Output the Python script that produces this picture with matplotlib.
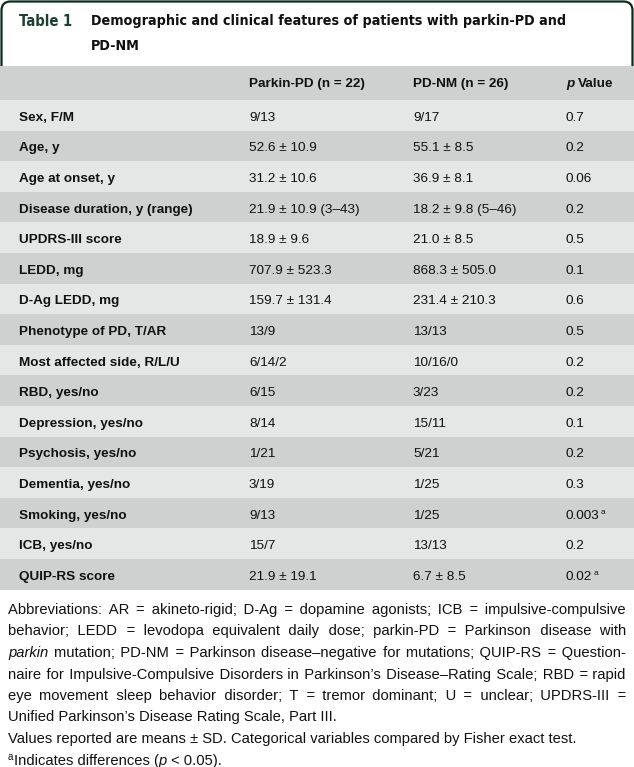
import matplotlib
matplotlib.use("Agg")
import matplotlib.pyplot as plt
from matplotlib import font_manager
from matplotlib.font_manager import FontProperties
from matplotlib.patches import Rectangle, FancyBboxPatch

# ---- table content ----
title_tag = "Table 1"
title_lines = ["Demographic and clinical features of patients with parkin-PD and", "PD-NM"]
col_headers = ["Parkin-PD (n = 22)", "PD-NM (n = 26)", "Value"]

row_labels = ["Sex, F/M", "Age, y", "Age at onset, y", "Disease duration, y (range)",
              "UPDRS-III score", "LEDD, mg", "D-Ag LEDD, mg", "Phenotype of PD, T/AR",
              "Most affected side, R/L/U", "RBD, yes/no", "Depression, yes/no",
              "Psychosis, yes/no", "Dementia, yes/no", "Smoking, yes/no", "ICB, yes/no",
              "QUIP-RS score"]
parkin_pd = ["9/13", "52.6 ± 10.9", "31.2 ± 10.6", "21.9 ± 10.9 (3–43)", "18.9 ± 9.6",
             "707.9 ± 523.3", "159.7 ± 131.4", "13/9", "6/14/2", "6/15", "8/14", "1/21",
             "3/19", "9/13", "15/7", "21.9 ± 19.1"]
pd_nm = ["9/17", "55.1 ± 8.5", "36.9 ± 8.1", "18.2 ± 9.8 (5–46)", "21.0 ± 8.5",
         "868.3 ± 505.0", "231.4 ± 210.3", "13/13", "10/16/0", "3/23", "15/11", "5/21",
         "1/25", "1/25", "13/13", "6.7 ± 8.5"]
p_values = ["0.7", "0.2", "0.06", "0.2", "0.5", "0.1", "0.6", "0.5", "0.2", "0.2", "0.1",
            "0.2", "0.3", "0.003", "0.2", "0.02"]
p_flag = [False] * 13 + [True, False, True]

# footnote lines (text, justified); a leading italic word is split off separately
foot = [
    ("Abbreviations: AR = akineto-rigid; D-Ag = dopamine agonists; ICB = impulsive-compulsive", True),
    ("behavior; LEDD = levodopa equivalent daily dose; parkin-PD = Parkinson disease with", True),
    ("*parkin mutation; PD-NM = Parkinson disease–negative for mutations; QUIP-RS = Question-", True),
    ("naire for Impulsive-Compulsive Disorders in Parkinson’s Disease–Rating Scale; RBD = rapid", True),
    ("eye movement sleep behavior disorder; T = tremor dominant; U = unclear; UPDRS-III =", True),
    ("Unified Parkinson’s Disease Rating Scale, Part III.", False),
    ("Values reported are means ± SD. Categorical variables compared by Fisher exact test.", False),
]

BODY = "Liberation Sans"
FOOT_FAM = [BODY, "DejaVu Sans"]

# a condensed bold face for the title, if one is installed
cond = FontProperties(family="DejaVu Sans", stretch="condensed", weight="bold")
if "Condensed" in font_manager.findfont(cond):
    TITLE_KW = dict(family="DejaVu Sans", fontstretch="condensed", fontsize=10.3)
    TAG_SIZE = 10.6
else:
    TITLE_KW = dict(family=BODY, fontsize=9.8)
    TAG_SIZE = 10.4

W, H = 634, 767
fig = plt.figure(figsize=(W / 100, H / 100), dpi=100)
ax = fig.add_axes([0, 0, 1, 1])
ax.set_xlim(0, W)
ax.set_ylim(H, 0)
ax.axis("off")
rend = fig.canvas.get_renderer()

GREEN = "#0c2a1c"
LIGHT = "#e5e6e6"
DARK = "#cfd0d0"
INK = "#111111"

# title box (its bottom edge is hidden under the header band)
box = FancyBboxPatch((1.5, 1.5), W - 3, 100, boxstyle="round,pad=0,rounding_size=9",
                     fc="white", ec=GREEN, lw=1.6, zorder=1)
ax.add_patch(box)
tag_kw = dict(TITLE_KW, fontsize=TAG_SIZE)
ax.text(19, 25.5, title_tag, fontweight="bold", color="#1d4030", va="baseline",
        zorder=3, **tag_kw)
for i, line in enumerate(title_lines):
    ax.text(91, 25.5 + i * 24.5, line, fontweight="bold", color=INK, va="baseline",
            zorder=3, **TITLE_KW)

# header band + rows
top = 66
head_h = 34
row_h = 30.6
ax.add_patch(Rectangle((0, top), W, head_h, fc=DARK, ec="none", zorder=2))
for i in range(len(row_labels)):
    y0 = top + head_h + i * row_h
    ax.add_patch(Rectangle((0, y0), W, row_h, fc=LIGHT if i % 2 == 0 else DARK,
                           ec="none", zorder=2))

cols = [19, 249, 413, 566]
fs = 9.7
hy = top + head_h / 2 + 4
ax.text(cols[1], hy, col_headers[0], fontsize=fs, fontweight="bold", family=BODY,
        va="baseline", color=INK, zorder=3)
ax.text(cols[2], hy, col_headers[1], fontsize=fs, fontweight="bold", family=BODY,
        va="baseline", color=INK, zorder=3)
tp = ax.text(cols[3], hy, "p", fontsize=fs, fontweight="bold", fontstyle="italic",
             family=BODY, va="baseline", color=INK, zorder=3)
pw = tp.get_window_extent(rend).width
ax.text(cols[3] + pw + 3.5, hy, col_headers[2], fontsize=fs, fontweight="bold",
        family=BODY, va="baseline", color=INK, zorder=3)

for i, lab in enumerate(row_labels):
    yb = top + head_h + i * row_h + row_h / 2 + 5.5
    ax.text(cols[0], yb, lab, fontsize=fs, fontweight="bold", family=BODY,
            va="baseline", color=INK, zorder=3)
    ax.text(cols[1], yb, parkin_pd[i], fontsize=fs, family=BODY, va="baseline",
            color=INK, zorder=3)
    ax.text(cols[2], yb, pd_nm[i], fontsize=fs, family=BODY, va="baseline",
            color=INK, zorder=3)
    t = ax.text(cols[3], yb, p_values[i], fontsize=fs, family=BODY, va="baseline",
                color=INK, zorder=3)
    if p_flag[i]:
        w = t.get_window_extent(rend).width
        ax.text(cols[3] + w + 0.8, yb - 5, "a", fontsize=6, family=BODY,
                va="baseline", color=INK, zorder=3)

# footnotes
ffs = 10.6
fx0, fx1 = 8, 626
fy = 614
lh = 21.5


def width_of(s, style="normal"):
    t = ax.text(0, 0, s, fontsize=ffs, family=FOOT_FAM, fontstyle=style)
    w = t.get_window_extent(rend).width
    t.remove()
    return w


XX = width_of("xx")
SP = width_of("x x") - XX
THIN = width_of("x\u2009x") - XX
HAIR = width_of("x\u200ax") - XX


def make_gap(g):
    # build a run of spaces whose width is close to g
    s = " "
    r = g - SP
    if THIN > 0:
        n = max(int(r // THIN), 0)
        s += "\u2009" * n
        r -= n * THIN
    if HAIR > 0:
        n = max(int(round(r / HAIR)), 0)
        s += "\u200a" * n
        r -= n * HAIR
    return s, r


def justified(words, x0, x1, y):
    widths = [width_of(w) for w in words]
    total = x1 - x0 - sum(widths)
    for _ in range(3):
        gap = total / (len(words) - 1)
        err = 0.0
        s = words[0]
        for w in words[1:]:
            sp, err = make_gap(gap + err)
            s += sp + w
        diff = (x1 - x0) - width_of(s)
        total += diff
        if abs(diff) < 0.6:
            break
    ax.text(x0, y, s, fontsize=ffs, family=FOOT_FAM, va="baseline", color=INK)


for k, (line, just) in enumerate(foot):
    y = fy + k * lh
    words = line.split(" ")
    x0 = fx0
    if words[0].startswith("*"):
        iw = words[0][1:]
        ax.text(fx0, y, iw, fontsize=ffs, family=FOOT_FAM, fontstyle="italic",
                va="baseline", color=INK)
        rest_w = sum(width_of(w) for w in words[1:])
        gap = (fx1 - fx0 - width_of(iw, "italic") - rest_w) / (len(words) - 1)
        x0 = fx0 + width_of(iw, "italic") + gap
        words = words[1:]
    if just:
        justified(words, x0, fx1, y)
    else:
        ax.text(x0, y, " ".join(words), fontsize=ffs, family=FOOT_FAM,
                va="baseline", color=INK)

ly = fy + len(foot) * lh
ax.text(fx0, ly - 4.5, "a", fontsize=7, family=BODY, va="baseline", color=INK)
parts = [("Indicates differences (", "normal", -0.6), ("p", "italic", SP), ("< 0.05).", "normal", 0)]
x = fx0 + 6.5
for txt, st, pad in parts:
    o = ax.text(x, ly, txt, fontsize=ffs, family=FOOT_FAM, fontstyle=st, va="baseline",
                color=INK)
    x += o.get_window_extent(rend).width + pad

fig.savefig("out.png", dpi=100)
